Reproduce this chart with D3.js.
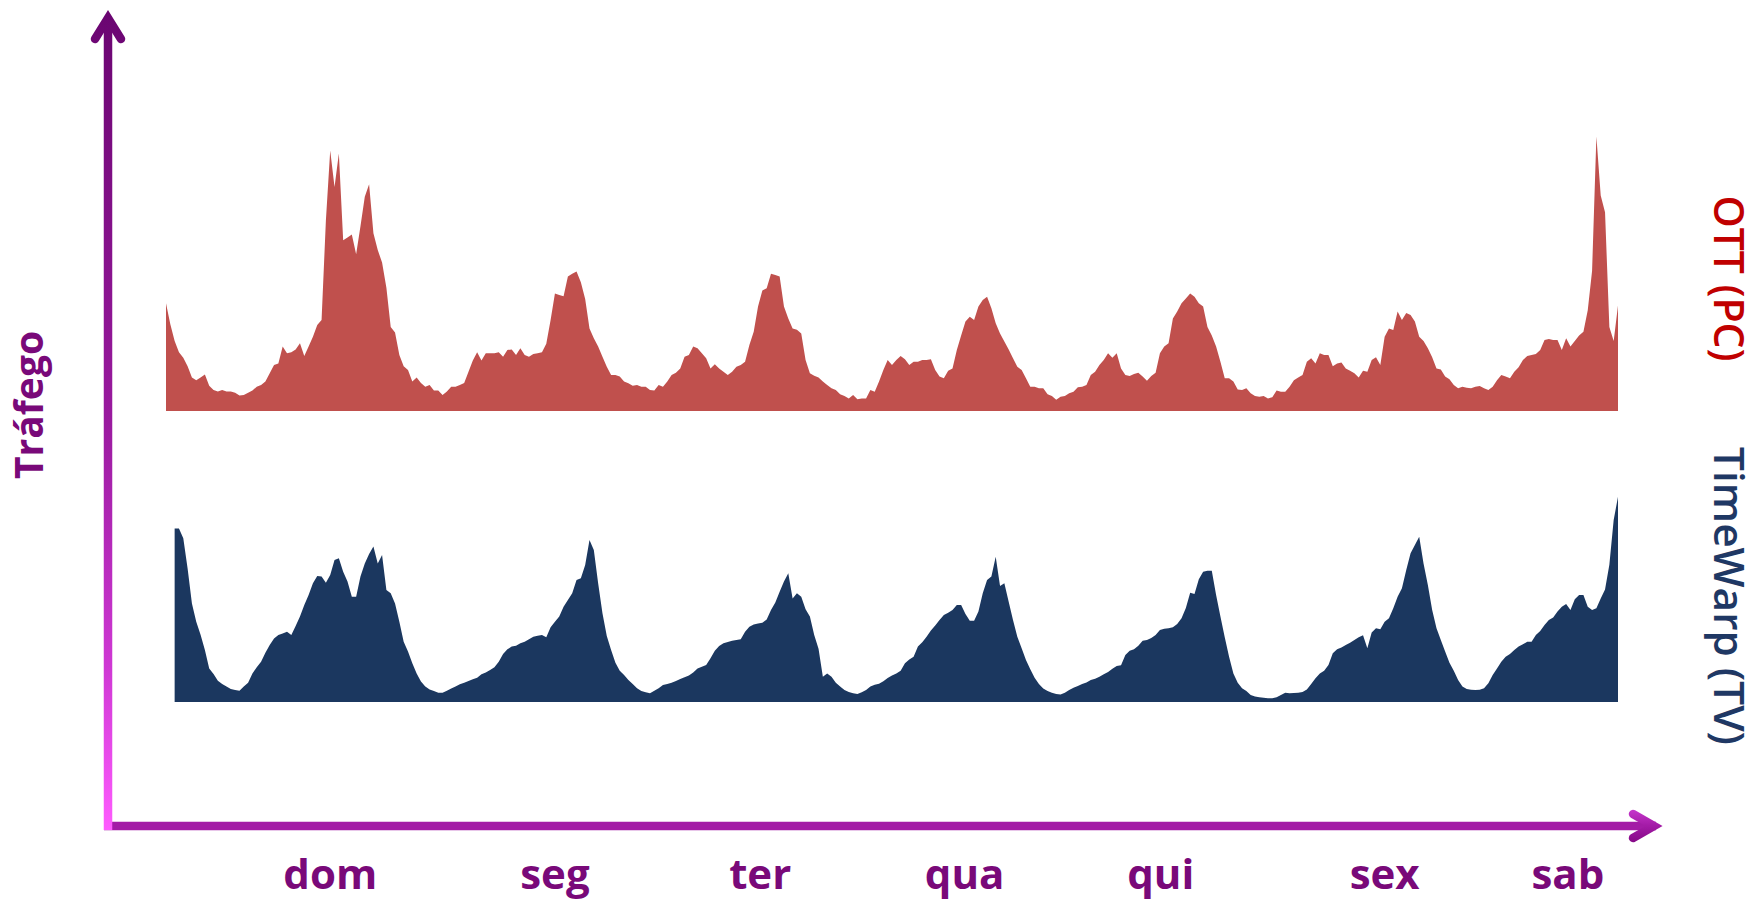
<!DOCTYPE html>
<html>
<head>
<meta charset="utf-8">
<script src="https://cdn.jsdelivr.net/npm/d3@7"></script>
<style>
  html, body { margin: 0; padding: 0; background: #ffffff; }
  svg { display: block; }
</style>
</head>
<body>
<svg id="chart" width="1758" height="902"></svg>
<script>
// ---------------- DATA ----------------
// Half-hourly traffic samples over one week (arbitrary units 0-100)
const sampleStepHours = 0.5;
const weekHours = 168;

// OTT (PC) series, starting at hour 0
const ottStartHour = 0;
const ottValues = [
  38.5,31,25,21,19,16,12,11,12,13,9,7.5,7,7.5,7,7,6.5,5.5,5.7,6.5,7.3,8.7,9.3,10.5,13.5,16.4,17,23,20.6,21,22,24.2,
  19.6,23,26.5,30.7,32.5,68,93,80,92,61,62,63,56,66,76.5,81,63.5,57.5,53,44,30,28,20,16,14.6,10.5,12,10,8.7,9.3,
  7.3,7.3,5.7,7,8.7,8.7,9.3,10,14,18,21,18,20.6,20.6,20.6,21,19.4,21.8,22,20,22.4,20,19.4,20.4,20.6,21,24,32.5,
  42,41.4,41,48,49,49.8,46,40,29.5,26,23,19.4,15.8,12.9,12.9,12.3,10.5,9.9,9,9.3,8.7,8.7,7.5,7.3,9.3,8.7,10.5,12.9,
  13.7,15.2,19.4,20,23,22.4,20.6,18.8,15.2,16.7,15.2,14,12.9,14,15.8,16.4,17.6,23.6,28.3,37.3,43,43.8,49,48.6,48,37.3,
  33,29.5,29,27.7,18.2,13.5,12.6,12,10.5,9.3,8.1,7.5,6,5.4,4.5,5.7,4.2,4.5,4.5,7.5,6.9,10.5,14.6,18.2,16.4,18.2,
  19.6,18.5,16.4,17.6,17.6,18.2,18.2,18.5,14.6,12.3,11.7,14.4,15.2,21.8,27,32,33.7,32.5,37.3,39.6,40.8,36.7,31.3,27.7,
  24.8,22,18.8,15.8,14.6,11.7,8.7,8.7,8.1,8.1,6,5.4,4,5.1,5.4,6.3,6.9,8.5,8.7,9.3,12.9,14,16.4,18.2,20.6,19,20.6,
  15.2,12.9,12.5,13.2,13.7,12.3,10.8,12.5,13.7,20.6,23,24.2,33,35.5,38.5,40.2,42,40.8,38.5,37.3,30,27,23,17.6,11.7,
  11.7,10.5,7.7,7.5,8.1,6.3,5.4,5.1,5.4,4.5,4.9,7.3,6.9,6.9,8.7,11,12,12.9,17.6,18.8,17,20.6,20,20,16,17,17.3,15.2,
  14.4,13.5,12,14.4,14,18.2,19.2,16.4,26.5,29.5,28.9,35.5,32.5,35,34.3,32,26.5,25,22.4,19.2,15.2,14.8,12.3,11.3,9.3,8.1,
  8.7,8.3,8.1,8.7,8.9,8.1,7.5,8.7,11,12.9,12.3,11.7,14,15.6,18.2,19.6,20,20.4,21.8,25.4,25.7,25.4,25.4,21.8,26,23,
  25,27,28.3,36,50,98,77,71,30,25,37.7
];

// TimeWarp (TV) series, starting at hour 1
const tvStartHour = 1;
const tvValues = [
  62,62,58.5,47.7,35.2,28.7,24,18.6,12,10,7.6,6.4,5.5,4.6,4.3,4,5.5,6.9,10.2,12.4,14.4,17.6,20.4,22.7,23.9,24.5,25.1,
  23.9,27.1,30.5,34.6,38.2,42.4,45,44.8,42.6,45.4,50.7,51.3,46.5,43,37.6,37.6,44.8,49.5,52.9,55.5,49.5,52.5,40,38.8,
  35.2,28.7,21.5,18,13.8,10.2,7.3,5.5,4.5,3.9,3.3,3.3,4,4.8,5.5,6.3,6.9,7.5,8.1,8.7,9.9,10.5,11.4,12.4,14.4,17.1,
  18.8,19.8,20.1,21,21.5,22.4,23.3,23.7,23.9,23.1,26.7,28.7,30.5,34,36.4,38.8,43.6,44.2,48.9,57.9,54.3,42.4,31.7,
  23.6,18.6,14,11.2,9.6,7.9,6.4,4.9,3.9,3.5,3.1,4,4.9,6.1,6.4,6.9,7.5,8.2,8.8,9.5,10.5,12,12.6,13.2,15.6,18.3,20,
  21,21.4,21.9,22.1,22.4,25.1,26.9,27.7,28,28.3,29.5,32.9,35.5,39.4,43,46,37,38.8,37.6,33.1,30.5,23.9,19,9,10.2,9,
  6.9,5.5,4.3,3.6,3.1,2.9,3.5,4.3,5.5,6.2,6.5,7.4,8.6,9.5,10.2,11.2,13.8,15.2,16.2,19.8,21.3,23.3,25.5,27.3,29.3,
  31.1,31.9,32.9,34.6,34.6,31.4,29,29,32.3,38.8,43.6,44.8,51.9,41.4,42.4,35.8,29.3,23.3,19.2,15,11.7,8.7,6.4,4.8,
  3.9,3.3,2.9,2.7,3.3,4.3,5.1,5.7,6.4,7,7.9,8.3,9,9.9,10.7,11.9,12.9,13.1,16.8,18.3,18.8,20.1,21.9,22.1,22.9,23.9,
  25.7,26.2,26.3,26.7,27.9,29.9,33.6,39,38.6,43.8,46.5,46.9,46.9,38.2,30.5,23.1,16.2,10.2,6.9,4.9,3.9,2.5,2,1.7,
  1.5,1.3,1.3,1.7,2.5,3.3,3.1,3.2,3.3,3.6,4.5,6.4,8.5,10.2,11.2,13.2,17.4,18.8,19.5,20.4,21.2,22.1,23.1,23.8,19.2,
  24.8,26.3,26,28.7,29.9,33.5,37.6,40.6,47.1,53.1,56.1,59,49.5,41.8,32.9,26.3,22.1,18,14,11.2,7.9,5.5,4.6,4.4,4.3,
  4.4,4.9,6.7,9.6,12,14.4,16.2,17.1,18.6,19.8,20.6,21.5,21.5,23.9,25.4,27.5,29.3,30.2,32.3,34,35,32.9,36.7,38.2,
  38.2,34,32.9,33.5,37,40.2,49,65,73.3
];

// Day tick labels and the hour (within the week) each label is centred on
const dayLabels = ["dom", "seg", "ter", "qua", "qui", "sex", "sab"];
const dayLabelHours = [19, 45, 68.75, 92.4, 115.1, 141, 162.2];

const seriesNames = ["OTT (PC)", "TimeWarp (TV)"];
const yAxisTitle = "Tráfego";

// ---------------- DRAWING ----------------
const svg = d3.select("#chart");
const defs = svg.append("defs");

const x = d3.scaleLinear().domain([0, weekHours]).range([166, 1618]);
const yOtt = d3.scaleLinear().domain([0, 100]).range([411, 131]);
const yTv = d3.scaleLinear().domain([0, 100]).range([702, 422]);

const ottData = ottValues.map((v, i) => ({ t: ottStartHour + i * sampleStepHours, v }));
const tvData = tvValues.map((v, i) => ({ t: tvStartHour + i * sampleStepHours, v }));

const ottArea = d3.area().x(d => x(d.t)).y0(yOtt(0)).y1(d => yOtt(d.v)).curve(d3.curveLinear);
const tvArea = d3.area().x(d => x(d.t)).y0(yTv(0)).y1(d => yTv(d.v)).curve(d3.curveLinear);

svg.append("path").datum(ottData).attr("d", ottArea).attr("fill", "#c0504d");
svg.append("path").datum(tvData).attr("d", tvArea).attr("fill", "#1b375f");

// Axis gradients
const vGrad = defs.append("linearGradient").attr("id", "vgrad")
  .attr("gradientUnits", "userSpaceOnUse")
  .attr("x1", 0).attr("y1", 10).attr("x2", 0).attr("y2", 832);
vGrad.append("stop").attr("offset", 0).attr("stop-color", "#6a0571");
vGrad.append("stop").attr("offset", 0.5).attr("stop-color", "#9a1a9f");
vGrad.append("stop").attr("offset", 0.8).attr("stop-color", "#cf38d4");
vGrad.append("stop").attr("offset", 1).attr("stop-color", "#ff5cff");

const hGrad = defs.append("linearGradient").attr("id", "hgrad")
  .attr("gradientUnits", "userSpaceOnUse")
  .attr("x1", 0).attr("y1", 808).attr("x2", 0).attr("y2", 842);
hGrad.append("stop").attr("offset", 0).attr("stop-color", "#c93ad0");
hGrad.append("stop").attr("offset", 0.5).attr("stop-color", "#a51ca8");
hGrad.append("stop").attr("offset", 1).attr("stop-color", "#860a88");

const axisG = svg.append("g");
const xAxisY = 826;
const yAxisX = 108;

// horizontal axis shaft
axisG.append("line")
  .attr("x1", 104).attr("x2", 1656).attr("y1", xAxisY).attr("y2", xAxisY)
  .attr("stroke", "#a31ca6").attr("stroke-width", 8.5);
// vertical axis shaft
axisG.append("line")
  .attr("x1", yAxisX).attr("x2", yAxisX).attr("y1", 18).attr("y2", 830)
  .attr("stroke", "url(#vgrad)").attr("stroke-width", 8.5);
// vertical arrow head
axisG.append("path")
  .attr("d", `M${yAxisX - 13},39 L${yAxisX},18 L${yAxisX + 13},39`)
  .attr("fill", "none").attr("stroke", "url(#vgrad)").attr("stroke-width", 8.5)
  .attr("stroke-linecap", "round").attr("stroke-linejoin", "miter").attr("stroke-miterlimit", 10);
// horizontal arrow head
axisG.append("path")
  .attr("d", `M1633,${xAxisY - 12} L1654,${xAxisY} L1633,${xAxisY + 12}`)
  .attr("fill", "none").attr("stroke", "url(#hgrad)").attr("stroke-width", 8.5)
  .attr("stroke-linecap", "round").attr("stroke-linejoin", "miter").attr("stroke-miterlimit", 10);

// Y axis title
svg.append("text")
  .attr("transform", "translate(43,405) rotate(-90)")
  .attr("text-anchor", "middle")
  .attr("font-family", "'Open Sans', sans-serif")
  .attr("font-weight", 700)
  .attr("font-size", 39)
  .attr("fill", "#790979")
  .text(yAxisTitle);

// Series labels on the right
svg.append("text")
  .attr("transform", "translate(1714,278.5) rotate(90)")
  .attr("text-anchor", "middle")
  .attr("font-family", "'Open Sans', sans-serif")
  .attr("font-weight", 600)
  .attr("font-size", 42)
  .attr("textLength", 166).attr("lengthAdjust", "spacingAndGlyphs")
  .attr("fill", "#c00000")
  .text(seriesNames[0]);

svg.append("text")
  .attr("transform", "translate(1714,596) rotate(90)")
  .attr("text-anchor", "middle")
  .attr("font-family", "'Open Sans', sans-serif")
  .attr("font-weight", 600)
  .attr("font-size", 42)
  .attr("textLength", 298).attr("lengthAdjust", "spacingAndGlyphs")
  .attr("fill", "#1f3864")
  .text(seriesNames[1]);

// Day labels
svg.append("g").selectAll("text")
  .data(dayLabels)
  .join("text")
  .attr("x", (d, i) => x(dayLabelHours[i]))
  .attr("y", 889)
  .attr("text-anchor", "middle")
  .attr("font-family", "'Open Sans', sans-serif")
  .attr("font-weight", 700)
  .attr("font-size", 42)
  .attr("fill", "#790979")
  .text(d => d);
</script>
</body>
</html>
